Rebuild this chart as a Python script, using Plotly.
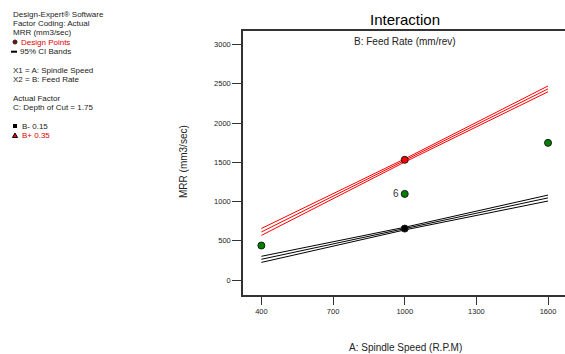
import plotly.graph_objects as go

# ---- data ----
speed = [400, 1000, 1600]
bminus_mean = [264, 655, 1046]
bminus_upper = [302, 672, 1082]
bminus_lower = [224, 638, 1006]
bplus_mean = [612, 1523, 2435]
bplus_upper = [656, 1543, 2472]
bplus_lower = [568, 1503, 2398]

design_x = [400, 1000, 1600]
design_y = [439, 1097, 1747]
design_labels = ["", "6", ""]
bminus_pt_x = [1000]
bminus_pt_y = [655]
bplus_pt_x = [1000]
bplus_pt_y = [1531]

x_ticks = [400, 700, 1000, 1300, 1600]
y_ticks = [0, 500, 1000, 1500, 2000, 2500, 3000]

W, H = 565, 354
ML, MR, MT, MB = 243, 0, 31, 59
PW = W - ML - MR
PH = H - MT - MB

def px(xp):
    return (xp - ML) / PW

def py(yp):
    return 1 - (yp - MT) / PH

FONT = "Liberation Sans, Arial, sans-serif"

fig = go.Figure()

for ys in (bminus_upper, bminus_mean, bminus_lower):
    fig.add_trace(go.Scatter(x=speed, y=ys, mode="lines",
                             line=dict(color="#000000", width=1), hoverinfo="skip"))
for ys in (bplus_upper, bplus_mean, bplus_lower):
    fig.add_trace(go.Scatter(x=speed, y=ys, mode="lines",
                             line=dict(color="#ff0000", width=1), hoverinfo="skip"))

fig.add_trace(go.Scatter(x=design_x, y=design_y, mode="markers",
                         marker=dict(color="#008000", size=7,
                                     line=dict(color="#1a1a1a", width=1))))
fig.add_trace(go.Scatter(x=bminus_pt_x, y=bminus_pt_y, mode="markers",
                         marker=dict(color="#000000", size=7,
                                     line=dict(color="#1a1a1a", width=1))))
fig.add_trace(go.Scatter(x=bplus_pt_x, y=bplus_pt_y, mode="markers",
                         marker=dict(color="#ff0000", size=7,
                                     line=dict(color="#1a1a1a", width=1))))

annots = []
for xv, yv, lab in zip(design_x, design_y, design_labels):
    if lab:
        annots.append(dict(x=xv, y=yv, xref="x", yref="y", text=lab, showarrow=False,
                           xanchor="right", xshift=-4,
                           font=dict(family=FONT, size=10, color="#333333")))

info = [
    (14.7, "Design-Expert&#174; Software", "#222222", 11),
    (23.7, "Factor Coding: Actual", "#222222", 11),
    (32.7, "MRR (mm3/sec)", "#222222", 11),
    (42.3, "Design Points", "#e00000", 19),
    (51.7, "95% CI Bands", "#222222", 18),
    (70.7, "X1 = A: Spindle Speed", "#222222", 11),
    (79.7, "X2 = B: Feed Rate", "#222222", 11),
    (98.3, "Actual Factor", "#222222", 11),
    (107.7, "C: Depth of Cut = 1.75", "#222222", 11),
    (126.0, "B- 0.15", "#222222", 20),
    (135.3, "B+ 0.35", "#e00000", 20),
]
for yp, txt, col, xpos in info:
    annots.append(dict(xref="paper", yref="paper", x=px(xpos), y=py(yp),
                       text=txt, showarrow=False, xanchor="left", yanchor="middle",
                       font=dict(family=FONT, size=8, color=col)))

annots.append(dict(xref="paper", yref="paper", x=px(405), y=py(20),
                   text="Interaction", showarrow=False, xanchor="center", yanchor="middle",
                   font=dict(family=FONT, size=15, color="#000000")))
annots.append(dict(xref="paper", yref="paper", x=px(405), y=py(42),
                   text="B: Feed Rate (mm/rev)", showarrow=False, xanchor="center", yanchor="middle",
                   font=dict(family=FONT, size=10, color="#222222")))
annots.append(dict(xref="paper", yref="paper", x=px(405), y=py(347),
                   text="A: Spindle Speed (R.P.M)", showarrow=False, xanchor="center", yanchor="middle",
                   font=dict(family=FONT, size=10, color="#222222")))
annots.append(dict(xref="paper", yref="paper", x=px(183), y=py(162),
                   text="MRR (mm3/sec)", showarrow=False, textangle=-90,
                   xanchor="center", yanchor="middle",
                   font=dict(family=FONT, size=10, color="#222222")))

shapes = [
    dict(type="circle", xref="paper", yref="paper",
         x0=px(13), x1=px(17), y0=py(44), y1=py(40),
         fillcolor="#8b0000", line=dict(color="#222222", width=1)),
    dict(type="line", xref="paper", yref="paper",
         x0=px(11), x1=px(17), y0=py(51.7), y1=py(51.7),
         line=dict(color="#000000", width=2)),
    dict(type="rect", xref="paper", yref="paper",
         x0=px(13), x1=px(17), y0=py(128), y1=py(124),
         fillcolor="#000000", line=dict(color="#000000", width=0)),
    dict(type="path", xref="paper", yref="paper",
         path=f"M {px(12.5)} {py(137.5)} L {px(17.5)} {py(137.5)} L {px(15)} {py(133)} Z",
         fillcolor="#ff0000", line=dict(color="#000000", width=1)),
]

fig.update_layout(
    width=W, height=H,
    margin=dict(l=ML, r=MR, t=MT, b=MB, pad=0),
    paper_bgcolor="white", plot_bgcolor="white",
    showlegend=False,
    annotations=annots,
    shapes=shapes,
    xaxis=dict(range=[323, 1671], tickvals=x_ticks, ticktext=[str(v) for v in x_ticks],
               showgrid=False, zeroline=False, showline=True, linecolor="#333333",
               linewidth=1.5, mirror=True, ticks="outside", ticklen=8, tickwidth=1,
               tickcolor="#333333",
               tickfont=dict(family=FONT, size=7.5, color="#222222")),
    yaxis=dict(range=[-191, 3172], tickvals=y_ticks, ticktext=[str(v) for v in y_ticks],
               showgrid=False, zeroline=False, showline=True, linecolor="#333333",
               linewidth=1.5, mirror=False, ticks="outside", ticklen=9, tickwidth=1,
               tickcolor="#333333",
               tickfont=dict(family=FONT, size=7.5, color="#222222")),
)

fig.write_html("out.html", config={"displayModeBar": False},
               post_script="document.body.style.margin='0px';document.body.style.overflow='hidden';")
